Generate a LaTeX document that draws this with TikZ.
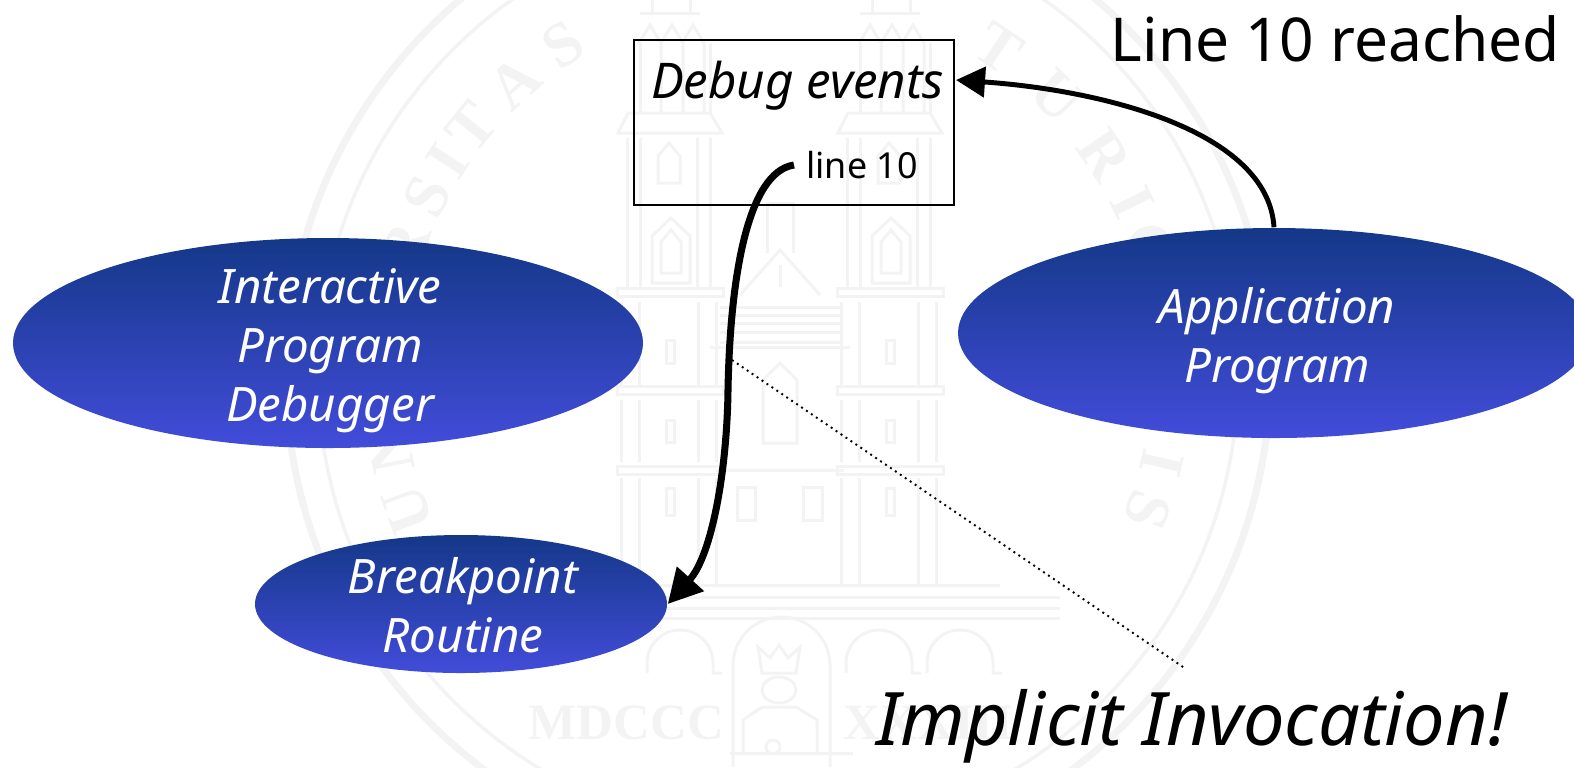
\documentclass[tikz,border=0pt]{standalone}
\usepackage{fontspec}
\setmainfont{Noto Sans}
\newfontfamily\sealfont{Liberation Serif}
\usetikzlibrary{shapes.geometric,arrows.meta}
\definecolor{seal}{HTML}{F3F3F3}
\definecolor{blobtop}{HTML}{143888}
\definecolor{blobbottom}{HTML}{424CDA}
\tikzset{
	blob/.style={ellipse, inner sep=0pt, top color=blobtop, bottom color=blobbottom, middle color=blobtop!50!blobbottom},
	blobtext/.style={text=white, align=center, font=\fontsize{13.5}{16.8}\selectfont\itshape},
	sealline/.style={draw=seal, line width=0.85pt},
	sealletter/.style={text=seal, inner sep=0pt, font=\fontsize{18}{18}\sealfont\bfseries}
}
\begin{document}
\begin{tikzpicture}[x=1cm, y=-1cm]
	\useasboundingbox (0,0) rectangle (15.74,7.67);
	\clip (0,0) rectangle (15.74,7.67);
	% Siegel
	\draw[draw=seal, line width=2pt] (7.78,3.75) circle (4.92);
	\draw[draw=seal, line width=1pt] (7.78,3.75) circle (4.60);
	\foreach \ch/\ang in {U/200,N/191,R/161,S/153,I/147,T/141,A/132,S/123,T/56,U/45,R/34,I/26,C/19,I/-13,S/-20}
		\node[sealletter, rotate=\ang-90] at ({7.78+3.94*cos(\ang)},{3.75-3.94*sin(\ang)}) {\ch};
	% Tuerme
	\foreach \x in {6.20,8.40}
	{
		\foreach \a/\b in {3.02/3.86,4.00/4.62,4.78/5.85}
			\foreach \r in {0.01,0.19,0.78,0.96}
				\draw[sealline] (\x+\r,\a) -- (\x+\r,\b);
		\foreach \y in {2.88,3.86,4.66}
			\draw[sealline] (\x-0.03,\y) rectangle (\x+1.03,\y+0.08);
		\foreach \r in {0.07,0.20,0.77,0.90}
			\draw[sealline] (\x+\r,1.38) -- (\x+\r,2.88);
		\draw[sealline] (\x-0.02,1.33) -- (\x+1.02,1.33) -- (\x+0.9,1.13) -- (\x+0.08,1.13) -- cycle;
		% Fenster
		\draw[sealline] (\x+0.32,2.83) -- (\x+0.32,2.36) -- (\x+0.51,2.18) -- (\x+0.70,2.36) -- (\x+0.70,2.83) -- cycle;
		\draw[sealline] (\x+0.41,2.73) -- (\x+0.41,2.42) -- (\x+0.51,2.30) -- (\x+0.61,2.42) -- (\x+0.61,2.73) -- cycle;
		\draw[sealline] (\x+0.38,1.83) -- (\x+0.38,1.56) -- (\x+0.49,1.43) -- (\x+0.60,1.56) -- (\x+0.60,1.83) -- cycle;
		% Turmspitze
		\foreach \r in {0.20,0.90}
			\draw[sealline] (\x+\r,0.43) -- (\x+\r,1.13);
		\foreach \r in {0.30,0.52,0.73}
			\draw[sealline] (\x+\r-0.11,0.43) -- (\x+\r,0.25) -- (\x+\r+0.11,0.43) -- (\x+\r+0.11,1.13);
		\draw[sealline] (\x+0.20,0.13) -- (\x+0.80,0.13);
		\draw[sealline] (\x+0.32,0) -- (\x+0.32,0.13);
		\draw[sealline] (\x+0.70,0) -- (\x+0.70,0.13);
		% kleine Oeffnungen
		\foreach \a/\b in {3.40/3.63,4.20/4.42,4.88/5.15}
			\draw[sealline] (\x+0.46,\a) rectangle (\x+0.54,\b);
	}
	% Mittelbau
	\draw[sealline] (7.40,2.95) -- (7.80,2.50) -- (8.20,2.95);
	\draw[sealline] (7.67,2.53) -- (7.67,2.03) -- (7.93,2.03) -- (7.93,2.53);
	\draw[sealline] (7.80,2.65) -- (7.80,2.87);
	\foreach \y in {3.07,3.15,3.23,3.32,3.42}
		\draw[sealline] (7.20,\y) -- (8.40,\y);
	\draw[sealline] (7.10,3.47) -- (8.50,3.47);
	\draw[sealline] (7.63,4.43) -- (7.63,3.80) -- (7.80,3.63) -- (7.97,3.80) -- (7.97,4.43) -- cycle;
	\draw[sealline] (7.16,4.70) -- (8.44,4.70);
	\draw[sealline] (7.37,5.20) -- (7.37,4.87) -- (7.55,4.87) -- (7.55,5.20) -- cycle;
	\draw[sealline] (8.03,5.20) -- (8.03,4.87) -- (8.22,4.87) -- (8.22,5.20) -- cycle;
	\draw[sealline] (6.20,5.85) -- (10.00,5.85);
	\draw[sealline] (5.00,5.97) -- (10.60,5.97);
	\draw[sealline] (5.00,6.08) -- (10.60,6.08);
	\draw[sealline] (5.00,6.18) -- (10.60,6.18);
	% Boegen
	\foreach \x in {6.80,8.79,9.60}
		\draw[sealline] (\x-0.33,6.73) -- (\x-0.33,6.63) arc (180:0:0.33 and -0.33) -- (\x+0.33,6.73) -- (\x+0.42,6.73);
	\draw[sealline] (7.33,7.67) -- (7.33,6.65) arc (180:0:0.485 and -0.48) -- (8.30,7.67);
	% Figur
	\draw[sealline] (7.62,6.73) -- (7.58,6.47) -- (7.70,6.58) -- (7.79,6.45) -- (7.88,6.58) -- (8.00,6.47) -- (7.96,6.73) -- cycle;
	\draw[sealline] (7.79,6.90) ellipse (0.17 and 0.13);
	\draw[sealline] (7.43,7.55) -- (7.43,7.20) -- (7.62,7.07) -- (7.96,7.07) -- (8.17,7.20) -- (8.17,7.55);
	\draw[sealline] (7.30,7.53) -- (8.53,7.53);
	\draw[sealline] (7.73,7.47) circle (0.07);
	\node[text=seal, font=\fontsize{14.5}{14}\sealfont\bfseries] (founded) at (6.265,7.23) {MDCCC};
	\node[text=seal, font=\fontsize{14.5}{14}\sealfont\bfseries, anchor=west, inner sep=0pt] (foundedyear) at (8.43,7.23) {XXXIII};

	% Ellipsen
	\node[blob, minimum width=6.30cm, minimum height=2.10cm] (debugger) at (3.28,3.43) {};
	\node[blobtext] (debuggertext) at (3.30,3.51) {Interactive\\Program\\Debugger};
	\node[blob, minimum width=6.32cm, minimum height=2.10cm] (application) at (12.74,3.33) {};
	\node[blobtext] (applicationtext) at (12.77,3.41) {Application\\Program};
	\node[blob, minimum width=4.12cm, minimum height=1.38cm] (routine) at (4.61,6.04) {};
	\node[blobtext] (routinetext) at (4.63,6.05) {Breakpoint\\Routine};

	% Debug events
	\node[draw, line width=0.6pt, minimum width=3.20cm, minimum height=1.65cm] (events) at (7.94,1.225) {};
	\node[font=\fontsize{14}{16}\selectfont\itshape] (eventstext) at (7.975,0.86) {Debug events};
	\node[font=\fontsize{10.2}{12}\selectfont] (lineten) at (8.62,1.65) {line 10};
	\node[font=\fontsize{17.2}{20}\selectfont, anchor=east] (reached) at (15.72,0.39) {Line 10 reached};
	\node[font=\fontsize{21}{25}\selectfont\itshape] (implicit) at (11.92,7.26) {Implicit Invocation!};

	% Pfeile
	\coordinate (eventsin) at (9.56,0.80);
	\draw[-{Triangle[length=0.29cm, width=0.30cm]}, line width=1.4pt] (application.north) .. controls (12.68,1.30) and (11.00,0.90) .. (eventsin);
	\draw[-{Triangle[length=0.34cm, width=0.35cm]}, line width=2pt] (lineten.west) .. controls (7.47,1.72) and (7.30,2.80) .. (7.28,3.90) .. controls (7.27,4.70) and (7.12,5.55) .. (routine.east);
	\coordinate (dotstart) at (7.32,3.60);
	\coordinate (dotend) at (11.86,6.69);
	\draw[dash pattern=on 0.55pt off 1.15pt, line width=0.55pt] (dotstart) -- (dotend);
\end{tikzpicture}
\end{document}
